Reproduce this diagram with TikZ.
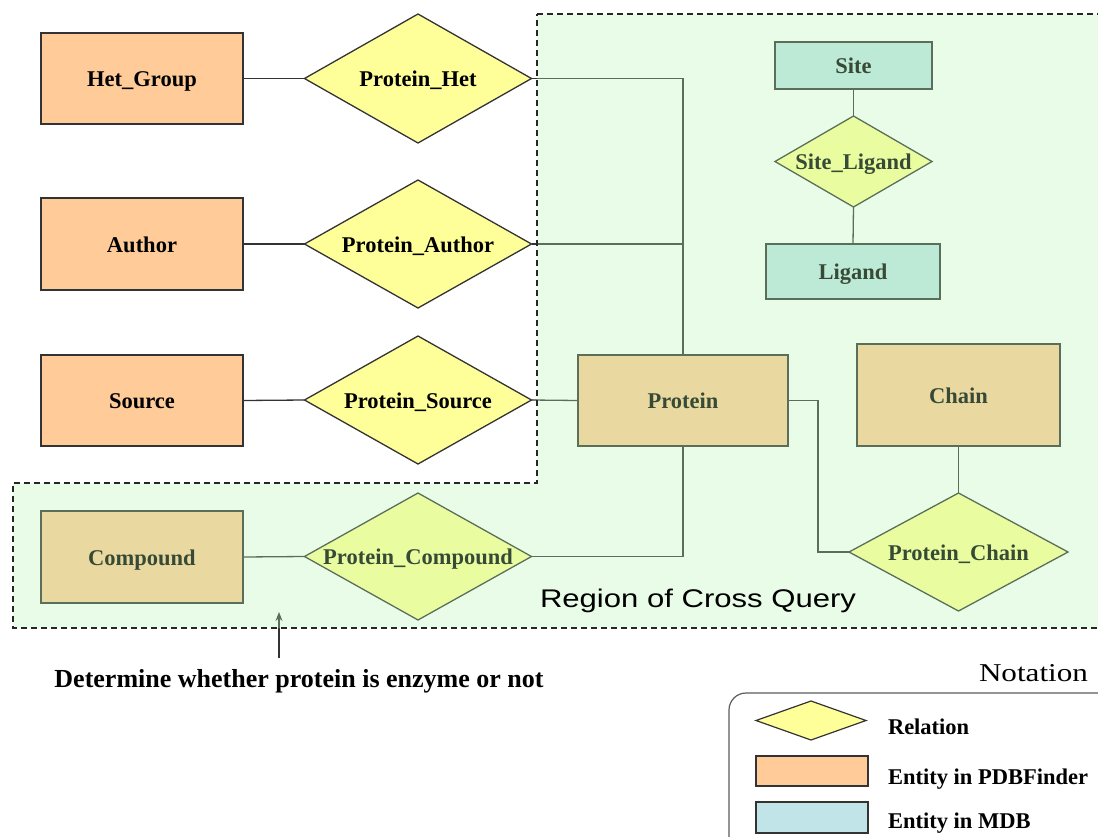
\documentclass[tikz,border=0pt]{standalone}
\usepackage{graphicx}
\usepackage{fontspec}
\setmainfont{Liberation Serif}
\setsansfont{Liberation Sans}
\usetikzlibrary{shapes.geometric,arrows.meta}

\definecolor{entityorange}{HTML}{FFCC99}
\definecolor{relyellow}{HTML}{FFFF99}
\definecolor{entityblue}{HTML}{C0E4E8}
\definecolor{crossgreen}{RGB}{185,248,178}
\definecolor{edgegray}{HTML}{333333}

\begin{document}
\begin{tikzpicture}[x=1pt,y=-1pt,
  every node/.style={inner sep=0pt, outer sep=0pt},
  lbl/.style={font=\fontsize{22.5}{27}\selectfont\bfseries, text height=16pt, text depth=0pt},
  entity/.style={lbl, rectangle, draw=edgegray, line width=1.4pt, fill=entityorange},
  mdbentity/.style={lbl, rectangle, draw=edgegray, line width=1.4pt, fill=entityblue},
  relation/.style={lbl, diamond, aspect=1.76, draw=edgegray, line width=1.3pt, fill=relyellow},
  conn/.style={draw=edgegray, line width=1.3pt},
  regionline/.style={draw=black!85, line width=1.2pt, dash pattern=on 6pt off 4pt},
  legendtext/.style={lbl, anchor=west}
]
\useasboundingbox (0,0) rectangle (1098,836);
\clip (0,0) rectangle (1098,836);
\fill[white] (0,0) rectangle (1098,836);

% ---- entities from PDBFinder ----
\node[entity, minimum width=202pt, minimum height=91pt] (hetgroup) at (142,78.5) {Het\_Group};
\node[entity, minimum width=202pt, minimum height=92pt] (author)   at (142,244)  {Author};
\node[entity, minimum width=202pt, minimum height=91pt] (source)   at (142,400.5){Source};
\node[entity, minimum width=202pt, minimum height=92pt] (compound) at (142,557)  {Compound};
\node[entity, minimum width=210pt, minimum height=91pt] (protein)  at (683,400.5){Protein};
\node[entity, minimum width=203pt, minimum height=102pt] (chain)   at (958.5,395){Chain};

% ---- entities from MDB ----
\node[mdbentity, minimum width=157pt, minimum height=47pt] (site)   at (853.5,65.5) {Site};
\node[mdbentity, minimum width=174pt, minimum height=55pt] (ligand) at (853,271.5)  {Ligand};

% ---- relations ----
\node[relation, minimum width=227pt, minimum height=129pt] (prothet)      at (418,78.5)  {Protein\_Het};
\node[relation, minimum width=227pt, minimum height=128pt] (protauthor)   at (418,244)   {Protein\_Author};
\node[relation, minimum width=227pt, minimum height=128pt] (protsource)   at (418,400)   {Protein\_Source};
\node[relation, minimum width=227pt, minimum height=127pt] (protcompound) at (418,556.5) {Protein\_Compound};
\node[relation, minimum width=219pt, minimum height=118pt] (protchain)    at (958.5,552) {Protein\_Chain};
\node[relation, minimum width=157pt, minimum height=91pt]  (siteligand)   at (853.5,161.5) {Site\_Ligand};

% ---- connectors ----
\draw[conn] (hetgroup.east) -- (prothet.west);
\draw[conn] (author.east) -- (protauthor.west);
\draw[conn] (source.east) -- (protsource.west);
\draw[conn] (compound.east) -- (protcompound.west);
\draw[conn] (prothet.east) -| (protein.north);
\draw[conn] (protauthor.east) -- (protauthor.east -| protein.north);
\draw[conn] (protsource.east) -- (protein.west);
\draw[conn] (protein.south) |- (protcompound.east);
\draw[conn] (protein.east) -- ++(30,0) |- (protchain.west);
\draw[conn] (chain.south) -- (protchain.north);
\draw[conn] (site.south) -- (siteligand.north);
\draw[conn] (siteligand.south) -- (ligand.north);

% ---- pointer to the enzyme note ----
\coordinate (arrowfoot) at (279,658);
\coordinate (arrowtip)  at (279,612);
\draw[conn, -{Stealth[length=9pt,width=7pt]}] (arrowfoot) -- (arrowtip);

% ---- region of cross query (translucent wash over its contents) ----
\fill[crossgreen, fill opacity=0.3]
  (537,14) -- (1110,14) -- (1110,628) -- (13,628) -- (13,483) -- (537,483) -- cycle;
\draw[regionline]
  (537,14) -- (1110,14) -- (1110,628) -- (13,628) -- (13,483) -- (537,483) -- cycle;
\node[anchor=base west] (regionlabel) at (540,607)
  {\resizebox{316pt}{18.5pt}{\sffamily Region of Cross Query}};

% ---- note ----
\node[font=\fontsize{26}{30}\selectfont\bfseries] (note) at (299,681)
  {Determine whether protein is enzyme or not};

% ---- legend ----
\node[anchor=base east] (notation) at (1088,681)
  {\resizebox{109pt}{17pt}{\fontsize{24}{28}\selectfont Notation}};
\draw[draw=edgegray!80, line width=1.2pt, rounded corners=17pt] (729,693) rectangle (1125,870);
\node[diamond, draw=edgegray, line width=1.2pt, fill=relyellow,
      minimum width=110pt, minimum height=39pt] (legrel) at (811,720.5) {};
\node[rectangle, draw=edgegray, line width=1.2pt, fill=entityorange,
      minimum width=112pt, minimum height=30pt] (legpdb) at (812,771) {};
\node[rectangle, draw=edgegray, line width=1.2pt, fill=entityblue,
      minimum width=112pt, minimum height=31pt] (legmdb) at (812,817.5) {};
\node[legendtext] (legreltext) at (888,726) {Relation};
\node[legendtext] (legpdbtext) at (888,776) {Entity in PDBFinder};
\node[legendtext] (legmdbtext) at (888,820) {Entity in MDB};
\end{tikzpicture}
\end{document}
